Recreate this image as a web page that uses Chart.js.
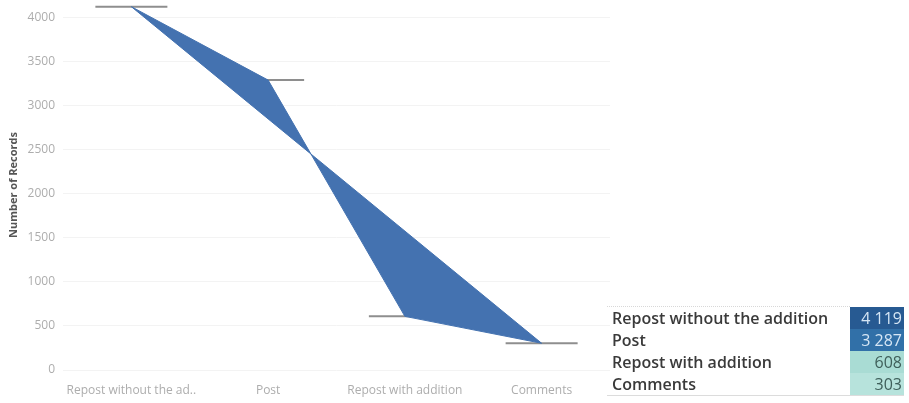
<!DOCTYPE html>
<html>
<head>
<meta charset="utf-8">
<script src="https://cdn.jsdelivr.net/npm/chart.js@4"></script>
<style>
  body { margin: 0; width: 909px; height: 403px; background: #fff; overflow: hidden; font-family: "Open Sans", "DejaVu Sans", sans-serif; }
  #myChart { position: absolute; left: 0; top: 0; }
  #tbl { position: absolute; left: 607px; top: 306px; width: 297px; border-collapse: collapse; border-bottom: 1px solid #dcdcdc; }
  #tbl td { height: 22px; padding: 0; font-size: 16px; line-height: 22px; white-space: nowrap; }
  #tbl td.name { color: #3a3a3a; padding-left: 5px; font-weight: 600; border-top: 1px dotted #d8d8d8; }
  #tbl tr + tr td.name { border-top: none; }
  #tbl td.val { width: 52px; text-align: right; padding-right: 2px; }
</style>
</head>
<body>
<canvas id="myChart" width="620" height="403"></canvas>
<table id="tbl"></table>
<script>
// categories and counts
const categories = ["Repost without the addition", "Post", "Repost with addition", "Comments"];
const records = [4119, 3287, 608, 303];
// straight edge of the shape: only first and last value
const edge = [4119, null, null, 303];
const yTicks = [0, 500, 1000, 1500, 2000, 2500, 3000, 3500, 4000];
// colours of the value cells in the table
const cellBg = ["#275a92", "#3170a8", "#a9dcd4", "#b7e3dc"];
const cellFg = ["#d6e6f5", "#d6e6f5", "#3f5f5a", "#3f5f5a"];

var blue = "#4472b0";

// short grey marks at each value, drawn before the datasets so the fill covers them
const valueMarks = {
  id: "valueMarks",
  beforeDatasetsDraw(chart) {
    const ctx = chart.ctx;
    const xs = chart.scales.x, ys = chart.scales.y;
    ctx.save();
    ctx.strokeStyle = "#8e8e8e";
    ctx.lineWidth = 2;
    records.forEach(function(v, i) {
      const x = xs.getPixelForValue(i);
      const y = ys.getPixelForValue(v);
      ctx.beginPath();
      ctx.moveTo(x - 36, y);
      ctx.lineTo(x + 36, y);
      ctx.stroke();
    });
    ctx.restore();
  }
};

new Chart("myChart", {
  type: "line",
  data: {
    labels: categories,
    datasets: [
      {
        data: records,
        borderColor: blue,
        borderWidth: 1,
        backgroundColor: blue,
        fill: "+1",
        pointRadius: 0,
        tension: 0
      },
      {
        data: edge,
        spanGaps: true,
        borderColor: blue,
        borderWidth: 1,
        fill: false,
        pointRadius: 0,
        tension: 0
      }
    ]
  },
  options: {
    responsive: false,
    animation: false,
    layout: { padding: { left: 7, top: 0, right: 10, bottom: 0 } },
    plugins: {
      legend: { display: false },
      tooltip: { enabled: false },
      filler: { drawTime: "beforeDatasetDraw" }
    },
    scales: {
      x: {
        offset: true,
        grid: { display: false, drawTicks: false },
        border: { display: false },
        ticks: {
          padding: 13,
          maxRotation: 0,
          autoSkip: false,
          color: "#adadad",
          font: { size: 12, family: "Open Sans" },
          callback: function(v) {
            var s = categories[v];
            return s.length > 22 ? s.slice(0, 21) + ".." : s;
          }
        },
        afterFit: function(scale) { scale.height = 33; }
      },
      y: {
        min: 0,
        max: 4195,
        afterBuildTicks: function(scale) {
          scale.ticks = yTicks.map(function(v) { return { value: v }; });
        },
        grid: { color: "#f3f3f3", drawTicks: false },
        border: { display: false },
        ticks: {
          padding: 8,
          color: "#adadad",
          font: { size: 12, family: "Open Sans" },
          callback: function(v) { return String(v); }
        },
        title: {
          display: true,
          text: "Number of Records",
          color: "#555",
          padding: 0,
          font: { size: 11, weight: "bold", family: "Open Sans" }
        },
        afterFit: function(scale) {
          scale.width = 56;
          scale.paddingTop = 0;
        }
      }
    }
  },
  plugins: [valueMarks]
});

// text table at the bottom right
var tbl = document.getElementById("tbl");
categories.forEach(function(c, i) {
  var tr = document.createElement("tr");
  var td1 = document.createElement("td");
  td1.className = "name";
  td1.textContent = c;
  var td2 = document.createElement("td");
  td2.className = "val";
  td2.textContent = records[i].toLocaleString("fr-FR").replace(/\s/g, " ");
  td2.style.background = cellBg[i];
  td2.style.color = cellFg[i];
  tr.appendChild(td1);
  tr.appendChild(td2);
  tbl.appendChild(tr);
});
</script>
</body>
</html>
